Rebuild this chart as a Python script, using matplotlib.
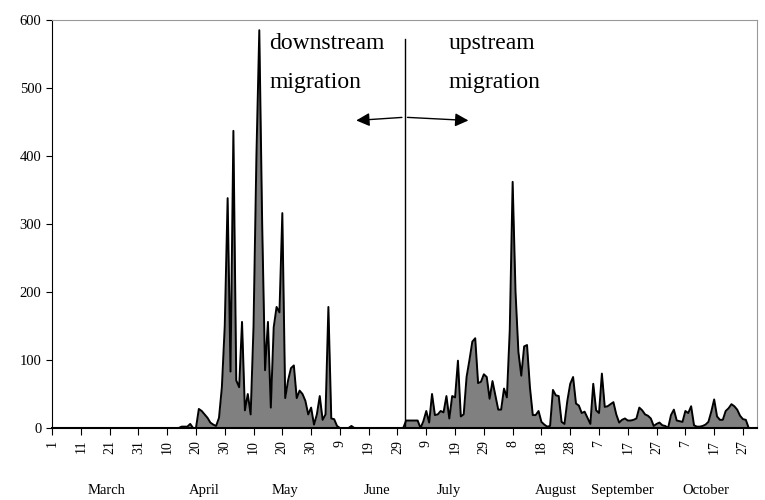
import matplotlib
matplotlib.use("Agg")
import matplotlib.pyplot as plt
import numpy as np

# daily counts, day 0 = 1 March
counts = ([0]*45 +
  [2,2,2,6,0,0,
   28,25,20,15,8,5,3,15,60,150,338,83,437,70,60,156,26,50,20,150,400,585,300,85,
   156,30,148,178,170,316,44,70,88,92,44,55,50,40,20,30,5,20,47,12,20,178,14,13,3,
   0,0,0,0,3,0] + [0]*17 +
  [11,11,11,11,11,0,10,25,8,50,19,20,25,23,47,14,47,45,99,17,20,75,100,127,132,66,
   68,79,75,43,69,48,27,27,58,45,144,362,200,112,77,120,122,60,19,19,25,9,5,2,3,56,
   48,47,9,6,40,65,75,36,33,22,24,15,6,65,26,22,80,31,32,35,38,20,8,12,14,11,11,12,
   14,30,26,20,18,14,3,6,8,4,3,0,19,27,11,10,9,25,22,32,4,2,2,3,5,9,24,42,17,12,12,
   25,29,35,32,27,18,13,12,0])
tick_days = list(range(0, 241, 10))
tick_labels = ["1","11","21","31","10","20","30","10","20","30","9","19","29",
               "9","19","29","8","18","28","7","17","27","7","17","27"]
months = ["March","April","May","June","July","August","September","October"]
month_pos = [19, 53, 81, 113, 138, 175, 198, 227]

plt.rcParams['font.family'] = ['Liberation Serif', 'DejaVu Serif']
fig = plt.figure(figsize=(7.65, 5.0), dpi=100)
ax = fig.add_axes([0.068, 0.144, 0.922, 0.816])
days = np.arange(len(counts))
ax.fill_between(days, counts, 0, color='#808080', lw=0)
ax.plot(days, counts, color='black', lw=1.4)
ax.set_xlim(0, 245)
ax.set_ylim(0, 600)
ax.set_yticks(range(0, 601, 100))
ax.set_xticks(tick_days)
ax.set_xticklabels(tick_labels, rotation=90, fontsize=10)
ax.tick_params(axis='y', labelsize=10.5, direction='out', length=4)
ax.tick_params(axis='x', direction='out', length=5)
for s in ['top', 'right']:
    ax.spines[s].set_color('#999999')
ax.spines['bottom'].set_linewidth(1.5)
for m, p in zip(months, month_pos):
    ax.text(p, -0.152, m, transform=ax.get_xaxis_transform(), ha='center',
            va='center', fontsize=10.5)

ax.plot([122.5, 122.5], [0, 572], color='black', lw=1)
ax.annotate('', xy=(104.7, 452), xytext=(122.5, 457),
            arrowprops=dict(arrowstyle='-|>', color='black', lw=1, mutation_scale=20))
ax.annotate('', xy=(145.6, 452), xytext=(122.5, 457),
            arrowprops=dict(arrowstyle='-|>', color='black', lw=1, mutation_scale=20))
for x0, words in [(75.5, ("downstream", "migration")), (137.6, ("upstream", "migration"))]:
    ax.text(x0, 557, words[0], fontsize=17, ha='left', va='baseline')
    ax.text(x0, 500, words[1], fontsize=17, ha='left', va='baseline')
fig.savefig("out.png", dpi=100)
